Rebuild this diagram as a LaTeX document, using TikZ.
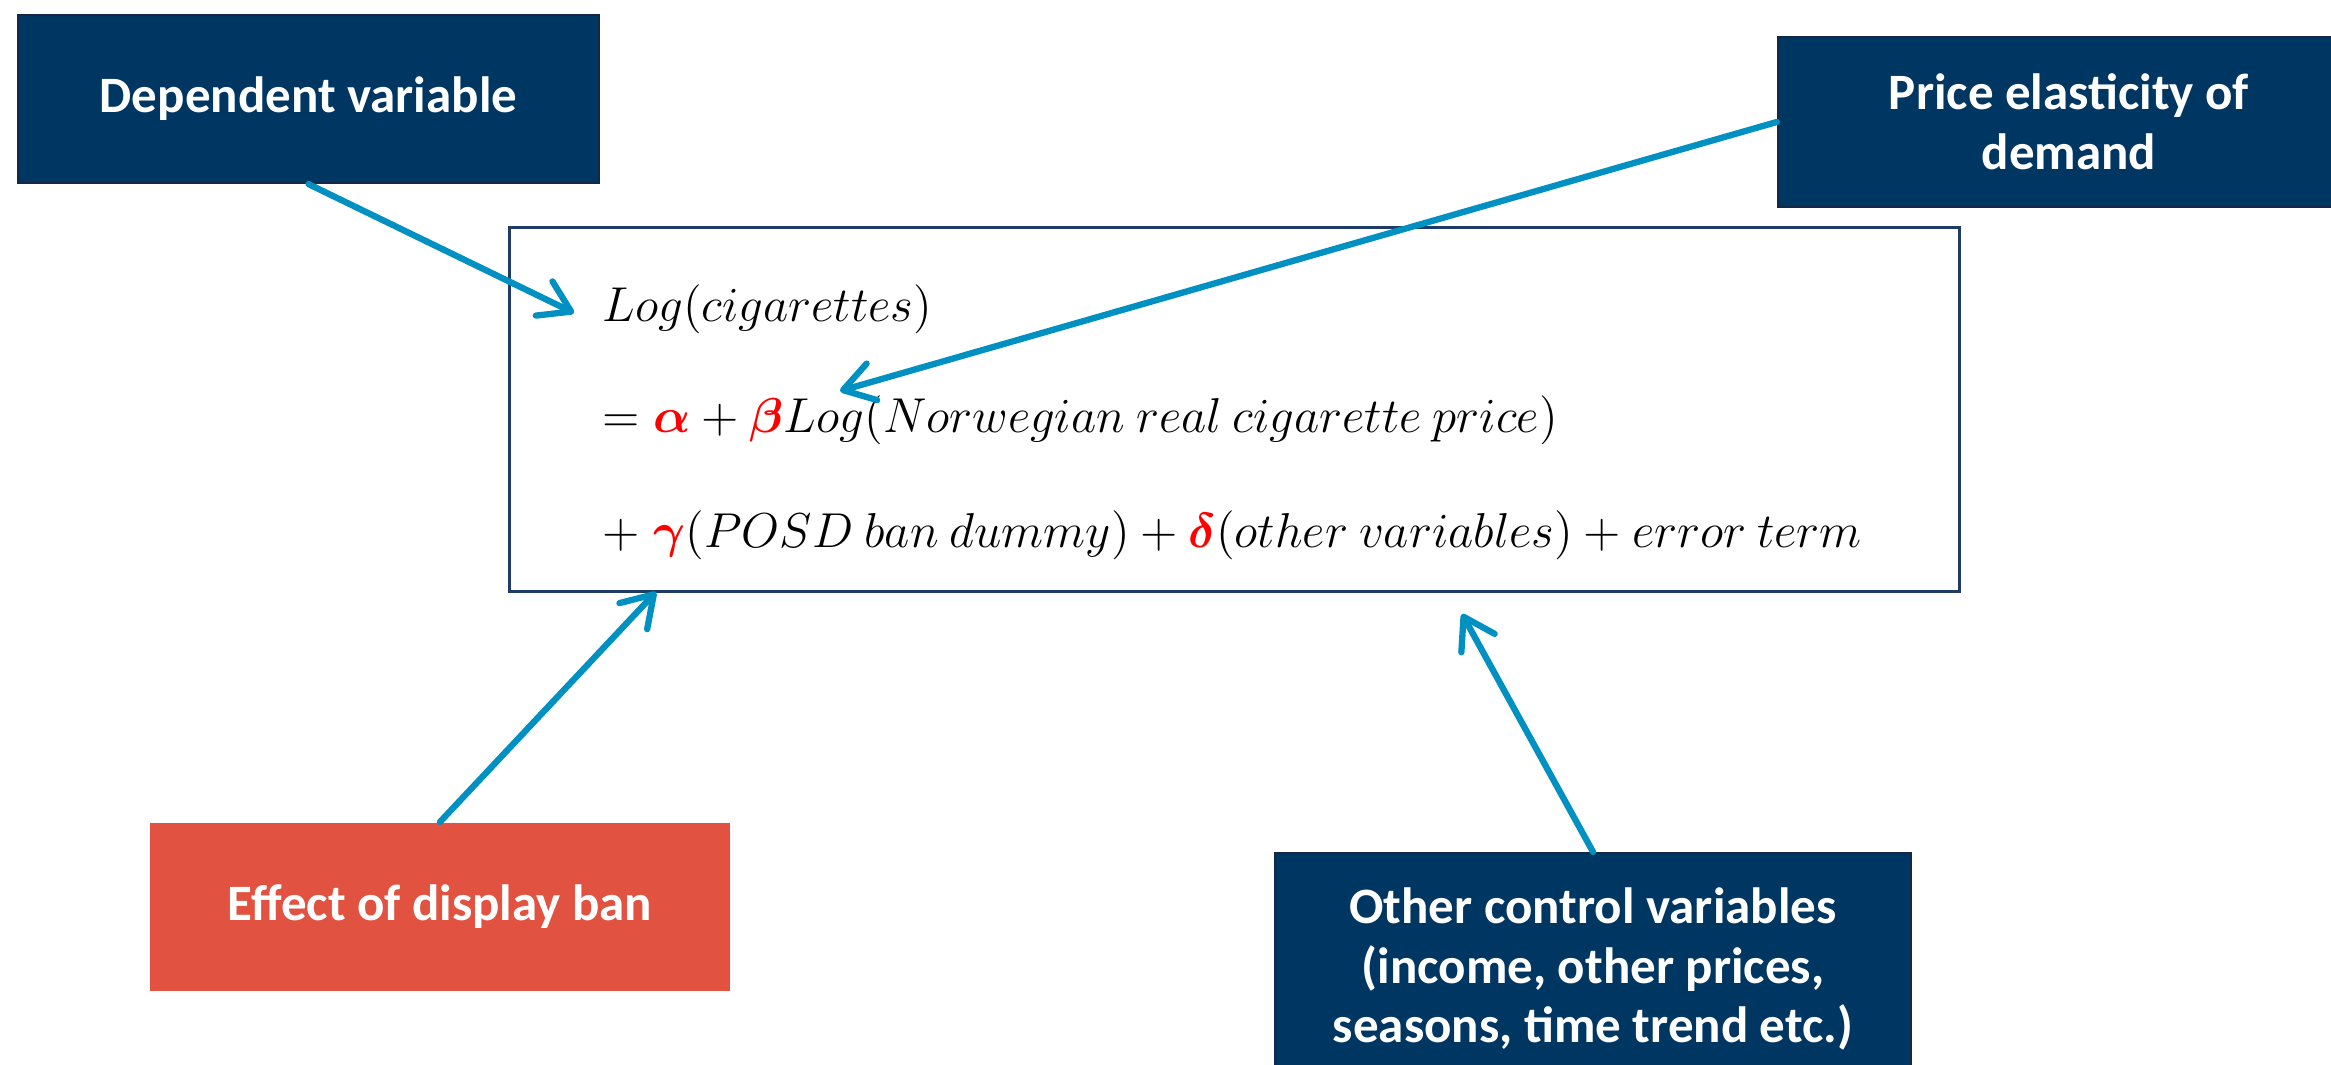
\documentclass[tikz,border=0pt]{standalone}
\usepackage{amsmath}
\usepackage{graphicx}
\usepackage{bm}
\usepackage[no-math]{fontspec}
\setmainfont{Carlito}
\usetikzlibrary{arrows.meta}
\definecolor{navy}{RGB}{0,54,98}
\definecolor{navyedge}{RGB}{20,40,70}
\definecolor{banred}{RGB}{225,82,64}
\definecolor{pointer}{RGB}{0,145,194}
\definecolor{eqframe}{RGB}{30,60,100}
\newcommand{\coef}[1]{\textcolor{red}{\bm{#1}}}
% equation lines are set at 12pt and enlarged uniformly
\newcommand{\eqtext}[1]{\scalebox{1.161}{\fontsize{12}{14}\selectfont$#1$}}
\begin{document}
\begin{tikzpicture}[x=0.01cm,y=-0.01cm,
  labelbox/.style={fill=navy,draw=navyedge,line width=0.6pt,text=white,
    font=\fontsize{14.5}{17}\selectfont\bfseries,align=center,inner sep=0pt},
  redbox/.style={labelbox,fill=banred,draw=none},
  eqline/.style={anchor=base west,inner sep=0pt},
  pointerarrow/.style={draw=pointer,line width=0.063cm,line cap=round,
    -{Straight Barb[length=0.3cm,width=0.38cm,round]}}]
\useasboundingbox (0,0) rectangle (2331,1065);

% equation frame
\node[draw=eqframe,line width=0.9pt,minimum width=14.49cm,minimum height=3.63cm,inner sep=0pt]
  (eq) at (1234.5,409.5) {};

% equation lines
\node[eqline] (eq1) at (602,322) {\eqtext{Log(cigarettes)}};
\node[eqline] (eq2) at (602,433) {\eqtext{=\coef{\alpha}+\coef{\beta}Log(Norwegian\ real\ cigarette\ price)}};
\node[eqline] (eq3) at (602,548) {\eqtext{+\;\coef{\gamma}(POSD\ ban\ dummy)+\coef{\delta}(other\ variables)+error\ term}};

% annotation boxes
\node[labelbox,minimum width=5.81cm,minimum height=1.68cm] (dep) at (308.5,99) {Dependent variable};
\node[labelbox,minimum width=5.82cm,minimum height=1.70cm] (price) at (2069,122) {Price elasticity of\\demand};
\node[redbox,minimum width=5.80cm,minimum height=1.68cm] (ban) at (440,907) {Effect of display ban};
\node[labelbox,minimum width=6.36cm,minimum height=2.32cm] (ctrl) at (1593,969)
  {Other control variables\\(income, other prices,\\seasons, time trend etc.)};

% arrow tips
\coordinate (tipdep) at (574,313);
\coordinate (tipprice) at (840,391);
\coordinate (tipban) at (656,592);
\coordinate (tipctrl) at (1462,614);

\draw[pointerarrow] (dep.south) -- (tipdep);
\draw[pointerarrow] (price.west) -- (tipprice);
\draw[pointerarrow] (ban.north) -- (tipban);
\draw[pointerarrow] (ctrl.north) -- (tipctrl);
\end{tikzpicture}
\end{document}
